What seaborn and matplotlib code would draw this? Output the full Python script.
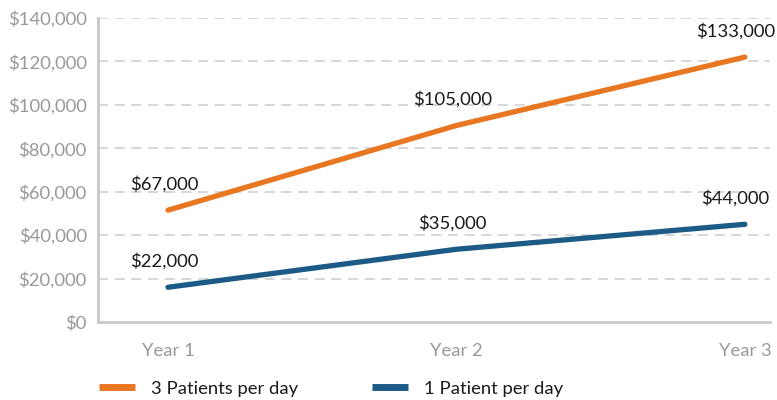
# Revenue projection chart - 3 patients vs 1 patient per day
import pandas as pd
import matplotlib.pyplot as plt
import seaborn as sns
from matplotlib.ticker import FuncFormatter

# --- data ---
years = ['Year 1', 'Year 2', 'Year 3']
three_patients = [51500, 90500, 122000]
one_patient = [16000, 33500, 45000]
three_labels = ['$67,000', '$105,000', '$133,000']
one_labels = ['$22,000', '$35,000', '$44,000']
series_names = ['3 Patients per day', '1 Patient per day']
y_ticks = [0, 20000, 40000, 60000, 80000, 100000, 120000, 140000]

colors = {'3 Patients per day': '#E87722', '1 Patient per day': '#1C5A87'}

df = pd.DataFrame({
    'Year': list(range(len(years))) * 2,
    'Revenue': three_patients + one_patient,
    'Series': [series_names[0]] * 3 + [series_names[1]] * 3,
})

sns.set_style("white")
plt.rcParams['font.family'] = ['Lato', 'DejaVu Sans']

fig = plt.figure(figsize=(7.77, 4.0), dpi=100)
ax = fig.add_axes([0.126, 0.195, 0.865, 0.76])

sns.lineplot(data=df, x='Year', y='Revenue', hue='Series', palette=colors,
             linewidth=3.8, ax=ax, legend=False)

# value labels above each point (last one nudged left so it stays inside)
for vals, labels in [(three_patients, three_labels), (one_patient, one_labels)]:
    for i, (v, lab) in enumerate(zip(vals, labels)):
        dx = -7 if i == len(vals) - 1 else -3
        ax.annotate(lab, (i, v), xytext=(dx, 19), textcoords='offset points',
                    ha='center', va='center', fontsize=13.3, color='#1a1a1a')

ax.set_ylim(0, 140000)
ax.set_xlim(-0.243, 2.087)
ax.set_yticks(y_ticks)
ax.yaxis.set_major_formatter(FuncFormatter(lambda v, p: f'${v:,.0f}'))
ax.set_xticks(range(len(years)))
ax.set_xticklabels(years)
ax.tick_params(axis='y', colors='#999999', labelsize=13.3, length=0, pad=8)
ax.tick_params(axis='x', colors='#999999', labelsize=13.3, length=0, pad=15)
ax.set_xlabel('')
ax.set_ylabel('')

# dashed grid
for t in y_ticks[1:]:
    ax.axhline(t, color='#d0d0d0', linestyle=(0, (6, 4)), linewidth=1.2, zorder=0)

for s in ['top', 'right']:
    ax.spines[s].set_visible(False)
for s in ['left', 'bottom']:
    ax.spines[s].set_color('#c8c8c8')
    ax.spines[s].set_linewidth(2)

# legend at bottom
handles = [plt.Line2D([], [], color=colors[n], linewidth=5, solid_capstyle='butt')
           for n in series_names]
fig.legend(handles, series_names, loc='center left', bbox_to_anchor=(0.1274, 0.028),
           ncol=2, frameon=False, fontsize=13.3, handlelength=1.95, borderpad=0,
           borderaxespad=0, columnspacing=4.0, handletextpad=0.87,
           labelcolor='#1a1a1a')

fig.savefig('out.png', dpi=100)
